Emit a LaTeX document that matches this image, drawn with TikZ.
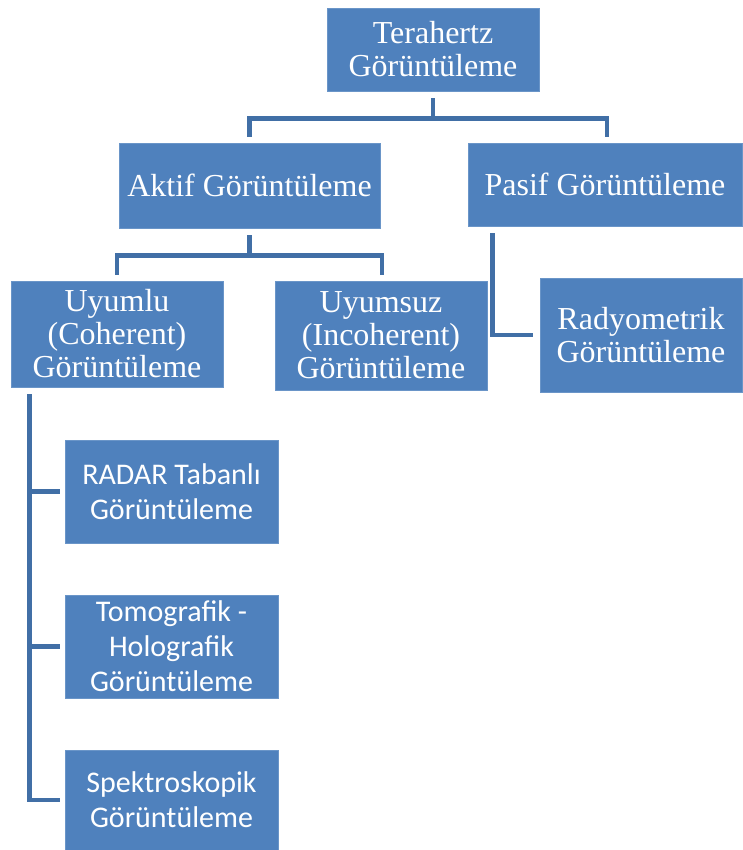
\documentclass[tikz,border=0pt]{standalone}
\usepackage{fontspec}
\setmainfont{Liberation Serif}
\newfontfamily\calibri{Carlito}
\usetikzlibrary{calc}
\definecolor{boxblue}{HTML}{4F81BD}
\definecolor{boxedge}{HTML}{6A95C8}
\definecolor{linkblue}{HTML}{416FA6}
\tikzset{
  box/.style={rectangle, fill=boxblue, draw=boxedge, line width=0.8pt, text=white, align=center, inner sep=0pt},
  serifbox/.style={box, font=\fontsize{32}{33}\selectfont},
  sansbox/.style={box, font=\calibri\fontsize{30}{35}\selectfont},
  link/.style={draw=linkblue, line width=4.5pt, line cap=butt, line join=miter},
}
\begin{document}
\begin{tikzpicture}[x=1pt,y=-1pt]
\useasboundingbox (0,0) rectangle (742,850);
% nodes (centres in pixel coordinates)
\node[serifbox, minimum width=212pt, minimum height=83pt] (T) at (433,49.5) {Terahertz\\Görüntüleme};
\node[serifbox, minimum width=261pt, minimum height=85pt] (A) at (249.5,185.5) {Aktif Görüntüleme};
\node[serifbox, minimum width=274pt, minimum height=83pt] (P) at (605,184.5) {Pasif Görüntüleme};
\node[serifbox, minimum width=212pt, minimum height=106pt] (U1) at (117,334) {Uyumlu\\(Coherent)\\Görüntüleme};
\node[serifbox, minimum width=212pt, minimum height=109pt] (U2) at (381,335.5) {Uyumsuz\\(Incoherent)\\Görüntüleme};
\node[serifbox, minimum width=202pt, minimum height=114pt] (R) at (641,335) {Radyometrik\\Görüntüleme};
\node[sansbox, minimum width=213pt, minimum height=103pt] (RD) at (171.5,491.5) {RADAR Tabanlı\\Görüntüleme};
\node[sansbox, minimum width=213pt, minimum height=103pt] (TH) at (171.5,646.5) {Tomografik -\\Holografik\\Görüntüleme};
\node[sansbox, minimum width=213pt, minimum height=100pt] (S) at (171.5,800) {Spektroskopik\\Görüntüleme};
% connectors
\coordinate (t1) at ($(T.south)+(0,7)$);
\coordinate (t2) at ($(t1)+(0,20)$);
\draw[link] (t1) -- (t2);
\draw[link] ($(A.north)+(0,-6)$) |- (t2) -| ($(P.north)+(2,-6)$);
\coordinate (a1) at ($(A.south)+(0,7)$);
\coordinate (a2) at ($(a1)+(0,20)$);
\draw[link] (a1) -- (a2);
\draw[link] ($(U1.north)+(0,-6)$) |- (a2) -| ($(U2.north)+(1,-6)$);
\coordinate (p1) at ($(P.south west)+(25,7)$);
\draw[link] (p1) |- ($(R.west)+(-7,0)$);
\coordinate (u1) at ($(U1.south west)+(19,7)$);
\draw[link] (u1) |- ($(S.west)+(-5,0)$);
\draw[link] (u1 |- RD.west) -- ($(RD.west)+(-5,0)$);
\draw[link] (u1 |- TH.west) -- ($(TH.west)+(-5,0)$);
\end{tikzpicture}
\end{document}
